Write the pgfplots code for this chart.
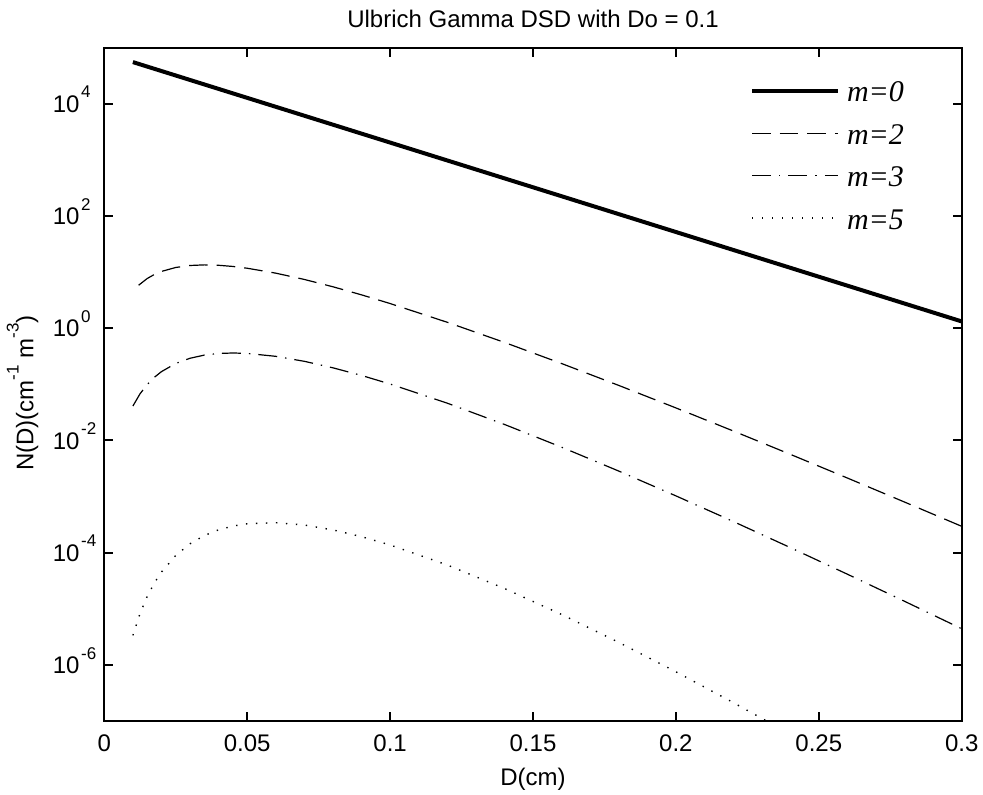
\documentclass[border=0pt]{standalone}
\usepackage{pgfplots}
\pgfplotsset{compat=1.18}
\usepackage{fontspec}
\setmainfont{Liberation Sans}
\newfontfamily\legfont{Liberation Serif}
\newcommand\supr[1]{\raisebox{7.3pt}{\fontsize{8.5}{9}\selectfont #1}}
\newcommand\ysup[1]{10\rlap{\hspace{0.8pt}\supr{#1}}}

\pgfplotstableread{
D N
0.01 5.542e4
0.10 2039
0.20 51.93
0.30 1.3229
}\mzero
\pgfplotstableread{
D N
0.012 5.834
0.015 7.690
0.0175 9.083
0.02 10.296
0.025 12.11
0.03 13.14
0.035 13.47
0.04 13.25
0.045 12.63
0.05 11.74
0.06 9.592
0.07 7.406
0.08 5.487
0.09 3.939
0.10 2.758
0.12 1.2779
0.14 0.55965
0.16 0.23518
0.18 0.09577
0.20 0.038042
0.22 0.014810
0.24 0.0056708
0.26 0.0021413
0.28 7.990e-4
0.30 2.951e-4
}\mtwo
\pgfplotstableread{
D N
0.01 0.04106
0.0125 0.06788
0.015 0.099277
0.0175 0.13343
0.02 0.16858
0.025 0.23589
0.03 0.29203
0.035 0.33223
0.04 0.35528
0.045 0.36240
0.05 0.35614
0.06 0.31586
0.07 0.25744
0.08 0.19723
0.09 0.14412
0.10 0.10147
0.12 0.046189
0.14 0.019321
0.16 0.0075973
0.18 0.0028495
0.20 1.0297e-3
0.22 3.610e-4
0.24 1.235e-4
0.26 4.135e-5
0.28 1.361e-5
0.30 4.408e-6
}\mthree
\pgfplotstableread{
D N
0.01 3.362e-6
0.0125 8.260e-6
0.015 1.655e-5
0.0175 2.880e-5
0.02 4.520e-5
0.025 8.943e-5
0.03 1.442e-4
0.035 2.021e-4
0.04 2.554e-4
0.045 2.984e-4
0.05 3.276e-4
0.06 3.425e-4
0.07 3.111e-4
0.08 2.549e-4
0.09 1.930e-4
0.10 1.373e-4
0.12 6.034e-5
0.14 2.303e-5
0.16 7.928e-6
0.18 2.523e-6
0.20 7.544e-7
0.22 2.140e-7
0.24 5.853e-8
}\mfive

\begin{document}
\begin{tikzpicture}
\begin{axis}[
  scale only axis, width=428.7pt, height=336.65pt,
  at={(0,0)}, anchor=south west,
  xmin=0, xmax=0.3, ymode=log, ymin=1e-7, ymax=1e5,
  xtick={0,0.05,0.1,0.15,0.2,0.25,0.3},
  xticklabels={0,0.05,0.1,0.15,0.2,0.25,0.3},
  ytick={1e-6,1e-4,1e-2,1,1e2,1e4},
  yticklabels={\ysup{-6},\ysup{-4},\ysup{-2},\ysup{0},\ysup{2},\ysup{4}},
  tick align=inside, major tick length=4.5pt,
  axis line style={line width=1pt},
  every tick/.style={black, line width=1pt},
  font=\fontsize{12}{14}\selectfont,
  xticklabel style={anchor=base, inner sep=0pt, yshift=-15.35pt},
  yticklabel style={anchor=base east, inner sep=0pt, xshift=-12.15pt, yshift=-4.35pt},
  title={Ulbrich Gamma DSD with Do = 0.1},
  every axis title shift=0pt,
  title style={at={(axis description cs:0.5,1)}, anchor=base, yshift=10.35pt, inner sep=0pt},
  xlabel={D(cm)},
  xlabel style={at={(axis description cs:0.5,0)}, anchor=base, yshift=-32pt, inner sep=0pt},
  ylabel={N(D)(cm\supr{-1} m\supr{-3})},
  ylabel style={at={(axis description cs:-0.0828,0.487)}, anchor=base, inner sep=0pt},
  legend style={draw=none, fill=none, at={(axis description cs:0.7531,0.9461)}, anchor=north west,
    inner sep=0pt, outer sep=0pt, column sep=3.5pt, row sep=9.2pt,
    nodes={inner sep=0pt, text height=9pt, text depth=3pt, font=\legfont\itshape\fontsize{15}{17}\selectfont}},
  legend cell align=left,
  legend image code/.code={\draw[#1] (0pt,2.5pt) -- (43pt,2.5pt);},
]
\addplot[black, line width=2pt] table[x=D,y=N] {\mzero};
\addplot[black, line width=0.6pt, dash pattern=on 9.3pt off 4.5pt] table[x=D,y=N] {\mtwo};
\addplot[black, line width=0.6pt, dash pattern=on 9.5pt off 4pt on 0.7pt off 4pt] table[x=D,y=N] {\mthree};
\addplot[black, line width=0.7pt, dash pattern=on 0.7pt off 4.3pt] table[x=D,y=N] {\mfive};
\legend{{m=0},{m=2},{m=3},{m=5}}
\end{axis}
\pgfresetboundingbox
\useasboundingbox (-52.15pt,-36.5pt) rectangle (439.35pt,360.5pt);
\end{tikzpicture}
\end{document}
